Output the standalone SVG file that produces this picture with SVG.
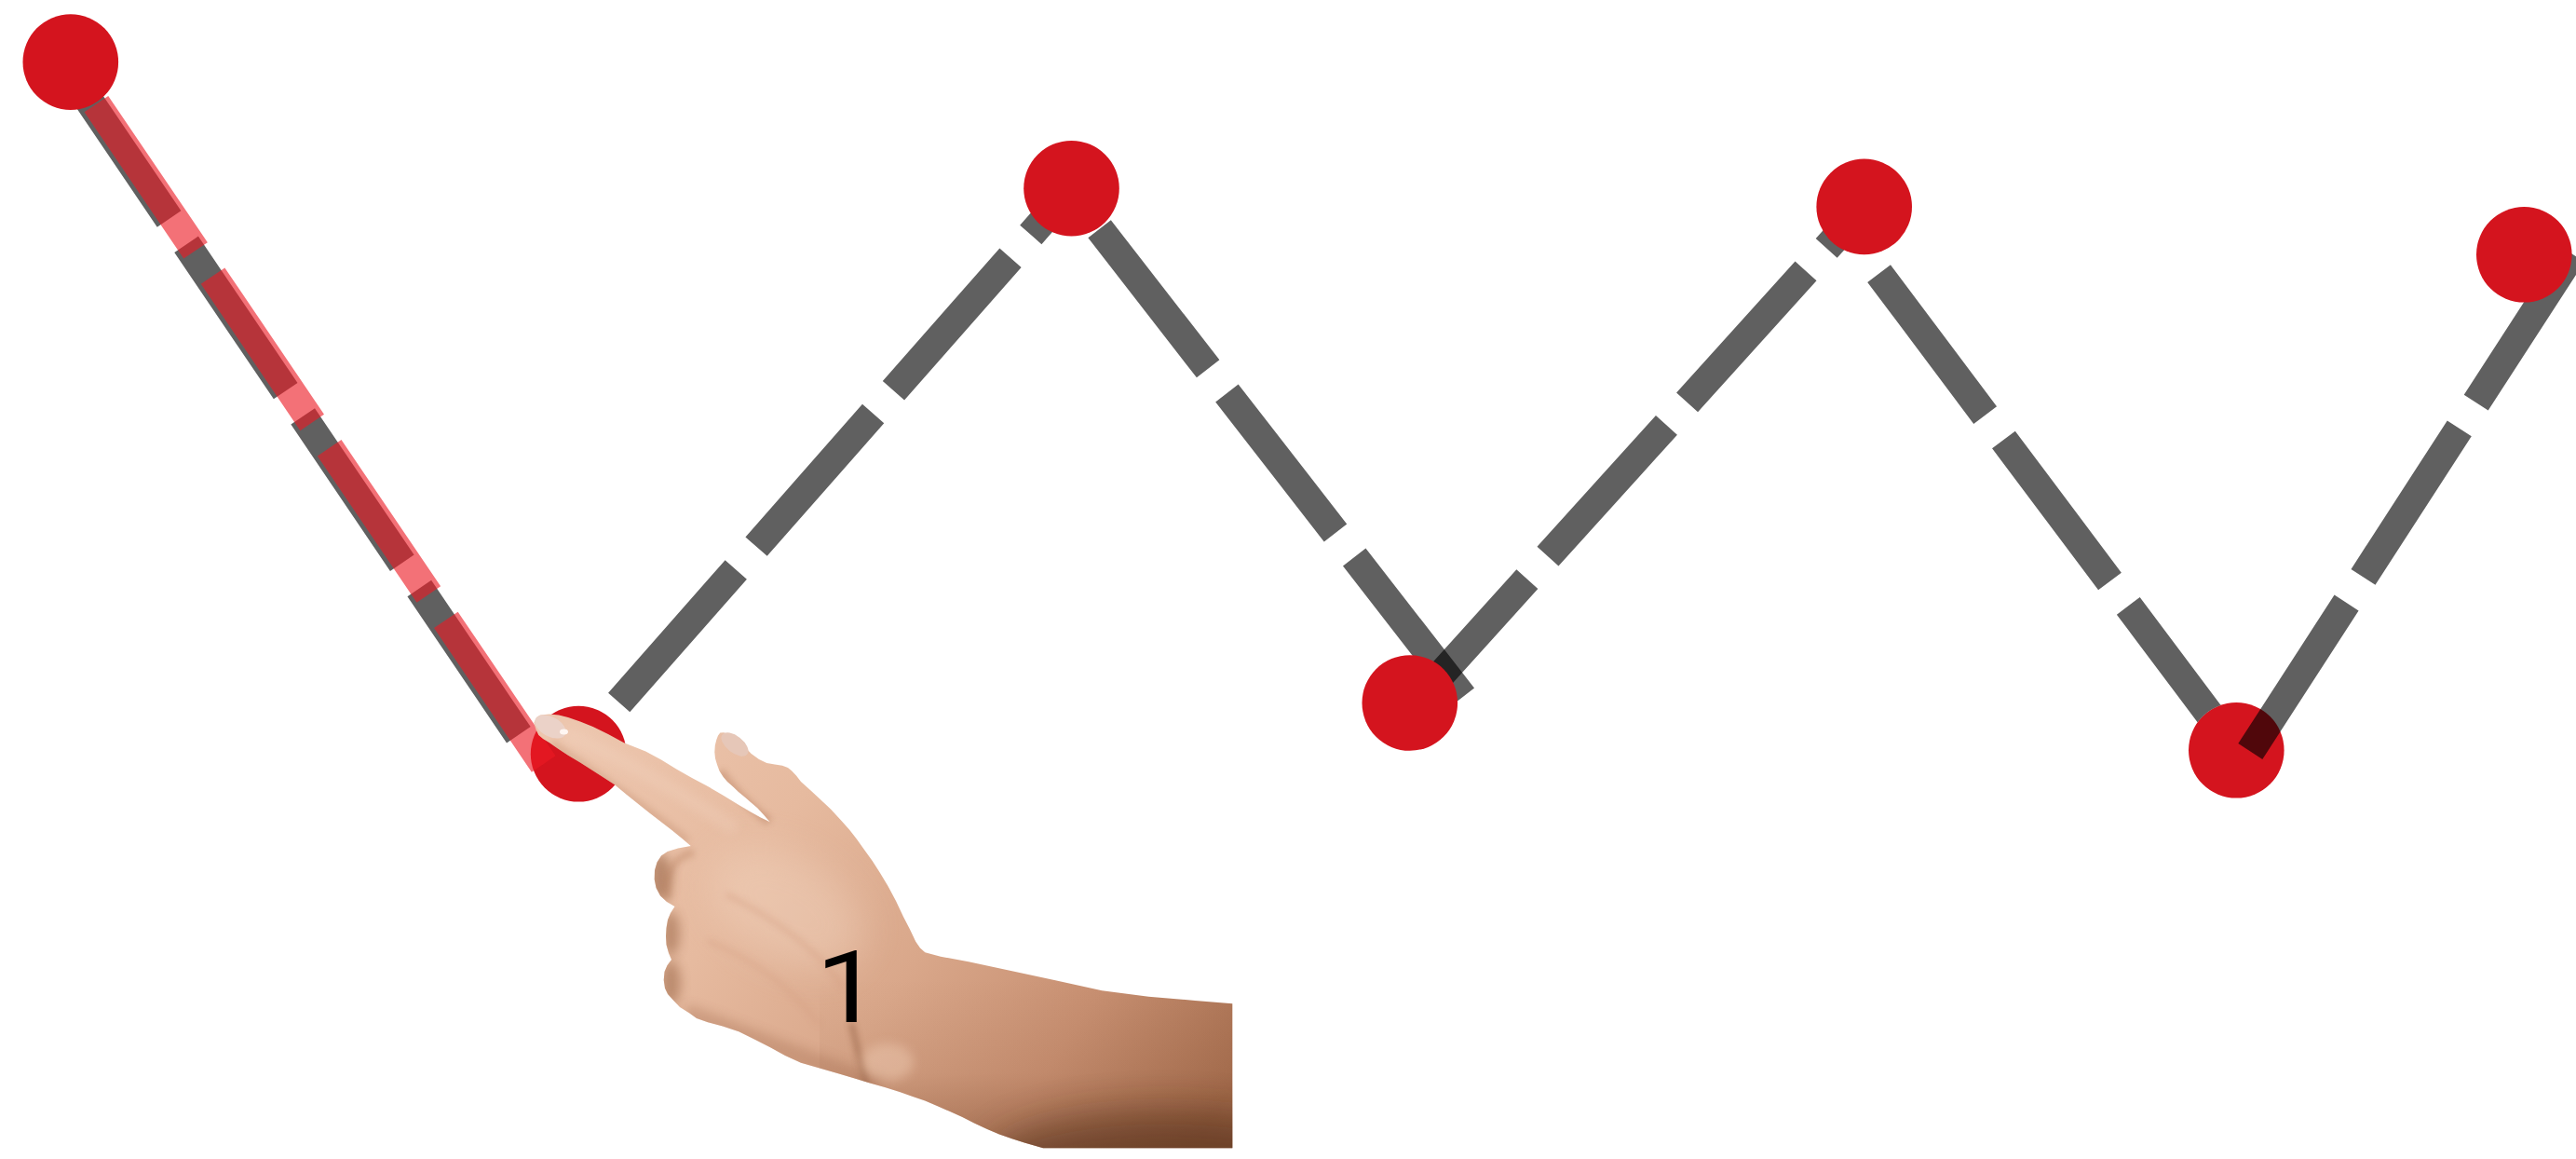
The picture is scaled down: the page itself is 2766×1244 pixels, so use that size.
<svg xmlns="http://www.w3.org/2000/svg" width="2766" height="1244" viewBox="0 0 2766 1244">
<style>
.node{fill:#D4141E}
.conn{fill:none;stroke:#000;stroke-opacity:0.624;stroke-width:31;stroke-dasharray:190 33;stroke-linecap:butt}
.trace{fill:none;stroke:#EC1A24;stroke-opacity:0.62;stroke-width:31;stroke-dasharray:190 33;stroke-linecap:butt}
.label{font-family:Roboto,"Liberation Sans",sans-serif;font-size:107px;font-weight:400;fill:#000}
</style>
<defs>
<filter id="b6" x="-50%" y="-50%" width="200%" height="200%"><feGaussianBlur stdDeviation="6"/></filter>
<filter id="b3" x="-50%" y="-50%" width="200%" height="200%"><feGaussianBlur stdDeviation="3"/></filter>
<filter id="b20" x="-50%" y="-50%" width="200%" height="200%"><feGaussianBlur stdDeviation="20"/></filter>
<clipPath id="clipE"><path clip-rule="evenodd" d="M0,0H2766V1244H0Z M2452.6,805.3A51.3,51.3 0 1 0 2350,805.3A51.3,51.3 0 1 0 2452.6,805.3Z"/></clipPath>
<path id="handShape" d="M573.3,775.7 L576,770 580,767.5 590,766.5 600,767.5 610,770 623,774.5 636.7,780 653,788 670,797.3 682,802 693.3,806.5 710,815.5 726.7,825.7 743,835 760,844 777,854 793.3,864 806,871.5 816.7,877.5 826.7,882.3 L820,874.5 813.3,867.3 806,861 800,855.7 793,850 786.7,844 781,839 776.7,834 772.5,827.5 770,820.7 768,814 767.3,807.3 767.8,800 769.3,794 771,789.5 773.3,786.5 777,786.3 780,787.3 787,791 793.3,795.7 800,802 806.7,809 815,815 823.3,819 832,820.5 840,821.8 846,824 850,827.3 855,832.5 860,839 870,848 880,857.3 892,868.5 903.3,880.7 912,890.5 920,900.7 928,912 936.7,924 945,937 953.3,950.7 962,967 970,984 977,997.5 983.3,1010.7 988,1017.5 993.3,1022.3 L1010,1026.7 1040,1032.3 1086.7,1042.3 1133.3,1052.3 1183.3,1063.3 1233.3,1069.7 1283.3,1074 1323.3,1077.3 L1323.3,1232.3 1120,1232.3 L1100,1226.5 1086.7,1222.3 1073,1217.5 1060,1212 1046,1205.5 1033.3,1199 1020,1193 1006.7,1187.3 993.3,1181.5 980,1177 966.7,1172.3 950,1167 933.3,1162.3 916,1157 900,1152.3 880,1146.5 860,1140.7 843,1133 826.7,1124 810,1115.5 793.3,1107.3 776,1101.5 760,1097.3 748,1093 740,1087.3 730,1081 723.3,1074 717,1067 714,1060.7 712.7,1052 713.5,1043 716.5,1036 721,1030 718,1023 715.5,1014 715,1005 715.5,996 717,987.3 720,980 724.5,973 716,968 709,961.5 704.5,953 702.7,944 703,934 705.5,925.5 710,918.5 716.7,914 728,910.5 741.7,908 L733.3,900.7 722,891.5 710,882.3 698,873 686.7,864 673,853 660,842.3 648,834.5 636.7,827.3 623,818.5 610,810.7 599,803.5 590,797.3 583,793 578.3,789 575.5,783 Z"/>
<clipPath id="handClip"><use href="#handShape"/></clipPath>
<linearGradient id="skin" gradientUnits="userSpaceOnUse" x1="620" y1="790" x2="1280" y2="1230">
<stop offset="0" stop-color="#EDC6AE"/>
<stop offset="0.3" stop-color="#E6BA9F"/>
<stop offset="0.55" stop-color="#D9A78A"/>
<stop offset="0.78" stop-color="#C78F71"/>
<stop offset="1" stop-color="#A66E4F"/>
</linearGradient>
<linearGradient id="armShade" gradientUnits="userSpaceOnUse" x1="0" y1="1050" x2="0" y2="1235">
<stop offset="0" stop-color="#7A4628" stop-opacity="0"/>
<stop offset="0.55" stop-color="#7A4628" stop-opacity="0.08"/>
<stop offset="1" stop-color="#6E3D22" stop-opacity="0.42"/>
</linearGradient>
</defs>
<rect width="2766" height="1244" fill="#fff"/>

<g id="node-2"><circle class="node" cx="621.2" cy="809.2" r="51.4"/></g>
<g id="node-6"><circle class="node" cx="2401.3" cy="805.3" r="51.3"/></g>

<g id="connectors">
<line class="conn" x1="75" y1="77.7" x2="559.7" y2="793"/>
<line class="conn" x1="664.7" y1="754" x2="1146.4" y2="206.9"/>
<line class="conn" x1="1180.6" y1="245.8" x2="1571.3" y2="748.7"/>
<line class="conn" x1="1512.4" y1="762.6" x2="2000.9" y2="222.5"/>
<line class="conn" x1="2017.6" y1="293.6" x2="2400.4" y2="803.8" clip-path="url(#clipE)"/>
<line class="conn" x1="2416.3" y1="806.5" x2="2762" y2="272.6"/>
<line class="trace" x1="103.4" y1="111.6" x2="583.7" y2="820"/>
</g>

<g id="node-1"><circle class="node" cx="75.8" cy="66.6" r="51.3"/></g>
<g id="node-3"><circle class="node" cx="1150.5" cy="202.2" r="51.3"/></g>
<g id="node-4"><circle class="node" cx="1513.8" cy="754.5" r="51.3"/></g>
<g id="node-5"><circle class="node" cx="2001.7" cy="221.9" r="51.3"/></g>
<g id="node-7"><circle class="node" cx="2710.3" cy="273.3" r="51.3"/></g>

<g id="hand">
<use href="#handShape" fill="url(#skin)"/>
<g clip-path="url(#handClip)">
<rect x="880" y="1000" width="450" height="240" fill="url(#armShade)"/>
<ellipse cx="1250" cy="1248" rx="190" ry="55" fill="#4E2A17" opacity="0.5" filter="url(#b20)"/>
<ellipse cx="845" cy="975" rx="90" ry="55" fill="#F3D7C3" opacity="0.4" filter="url(#b20)" transform="rotate(30 845 975)"/>
<path d="M605,786 C660,810 730,850 790,890" stroke="#F4D8C6" stroke-width="14" fill="none" opacity="0.3" filter="url(#b6)"/>
<ellipse cx="709" cy="942" rx="12" ry="26" fill="#8A5436" opacity="0.5" filter="url(#b6)"/>
<ellipse cx="720" cy="1002" rx="10" ry="24" fill="#8A5436" opacity="0.45" filter="url(#b6)"/>
<ellipse cx="720" cy="1055" rx="11" ry="24" fill="#8A5436" opacity="0.45" filter="url(#b6)"/>
<path d="M735,1088 C800,1112 880,1145 945,1166" stroke="#9B6446" stroke-width="22" fill="none" opacity="0.3" filter="url(#b6)"/>
<path d="M914,1098 C920,1120 923,1140 931,1165" stroke="#8E5A3D" stroke-width="7" fill="none" opacity="0.45" filter="url(#b3)"/>
<ellipse cx="953" cy="1140" rx="28" ry="20" fill="#F0CDB5" opacity="0.45" filter="url(#b6)"/>
<path d="M773,828 C788,850 806,866 826,882" stroke="#B57D5E" stroke-width="10" fill="none" opacity="0.4" filter="url(#b3)"/>
<path d="M592,798 C640,830 700,872 738,903" stroke="#C28D6E" stroke-width="9" fill="none" opacity="0.35" filter="url(#b3)"/>
<path d="M745,915 C720,920 712,945 718,965" stroke="#B37B5C" stroke-width="8" fill="none" opacity="0.35" filter="url(#b3)"/>
<path d="M780,960 C830,985 880,1020 905,1060" stroke="#D39C80" stroke-width="6" fill="none" opacity="0.35" filter="url(#b3)"/>
<path d="M760,1010 C810,1030 850,1060 880,1100" stroke="#D39C80" stroke-width="6" fill="none" opacity="0.3" filter="url(#b3)"/>
</g>
<ellipse cx="591" cy="780" rx="18" ry="10.5" fill="#EBD2C8" transform="rotate(28 591 780)"/>
<ellipse cx="605.5" cy="785.5" rx="4.5" ry="3" fill="#FFF6F2"/>
<ellipse cx="789" cy="799" rx="17" ry="9" fill="#E6C7B8" transform="rotate(38 789 799)"/>
</g>

<g id="label-1"><text class="label" transform="translate(876 1097) scale(1.15 1)" x="0" y="0">1</text></g>
</svg>
